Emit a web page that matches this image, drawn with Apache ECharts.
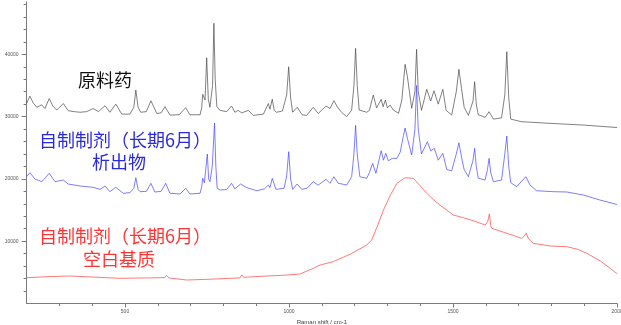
<!DOCTYPE html>
<html>
<head>
<meta charset="utf-8">
<script src="https://cdn.jsdelivr.net/npm/echarts@6/dist/echarts.min.js"></script>
<style>
html,body{margin:0;padding:0;background:#fff;}
#chart{width:621px;height:325px;}
</style>
</head>
<body>
<div id="chart"></div>
<script>
// ---- data (Raman shift [cm-1], counts) ----
const rawDrug = [[200,32100],[210,33300],[220,32200],[231,31500],[246,31900],[256,31300],[269,32900],[280,31700],[292,31060],[312,32100],[327,30950],[345,30800],[363,30700],[383,30800],[403,31300],[419,30800],[439,31750],[454,30700],[472,32000],[490,30400],[515,30400],[527,31500],[533,34270],[540,31500],[548,30700],[565,30800],[579,32550],[597,30500],[610,30600],[622,31600],[637,30250],[665,30300],[685,31430],[698,30300],[729,30300],[734,31500],[737,33580],[744,32660],[749,39450],[754,32800],[759,31500],[767,35000],[771,44980],[775,36000],[780,31600],[790,31000],[810,30800],[825,31700],[835,30700],[845,31000],[856,30600],[876,31000],[891,30200],[922,30400],[937,32100],[942,31200],[949,32800],[955,31000],[962,30700],[980,30900],[993,33500],[999,38000],[1005,33000],[1011,30700],[1025,31500],[1040,30300],[1054,30200],[1074,31500],[1089,30500],[1113,31700],[1125,31300],[1137,32550],[1147,31600],[1160,30700],[1176,30000],[1191,31060],[1198,35000],[1203,40960],[1208,35000],[1214,31060],[1237,30700],[1245,31000],[1257,33470],[1267,31400],[1281,32780],[1287,31600],[1294,32660],[1300,31400],[1308,31860],[1318,31060],[1334,30530],[1344,32660],[1354,38400],[1361,36400],[1374,31330],[1384,34000],[1389,40800],[1394,34000],[1404,31000],[1420,34380],[1432,32500],[1442,34160],[1455,32000],[1469,34380],[1479,31000],[1496,30250],[1510,34000],[1518,37600],[1526,34500],[1534,31500],[1547,30200],[1561,32500],[1566,35600],[1571,32000],[1577,30300],[1598,29890],[1610,30790],[1623,29600],[1648,29800],[1658,33500],[1664,40420],[1670,33000],[1676,29600],[1709,29180],[1796,28920],[1896,28650],[2000,28250]];

const precipitate = [[200,20350],[210,21000],[226,19940],[236,19800],[246,19550],[252,19900],[269,20900],[287,19550],[312,19820],[327,19180],[363,18860],[403,18650],[424,18330],[439,18860],[454,17950],[472,18650],[495,17690],[515,17800],[527,18500],[533,20190],[540,18300],[546,17950],[565,18000],[579,19290],[591,17900],[610,18000],[624,19290],[637,17700],[668,17580],[685,18490],[698,17580],[729,17700],[734,18800],[737,20100],[742,19400],[751,24000],[755,20000],[759,19550],[766,22000],[773,28970],[777,22000],[781,18490],[790,18220],[810,18300],[825,19290],[835,18400],[852,19180],[871,18600],[902,18100],[925,18400],[937,19020],[942,18600],[949,20100],[960,18330],[985,18500],[993,20500],[999,24370],[1005,20000],[1011,18330],[1025,19180],[1039,18330],[1055,18500],[1074,19550],[1089,19000],[1113,19940],[1125,19300],[1137,20350],[1150,19300],[1176,19020],[1191,20350],[1198,24000],[1203,28600],[1208,24000],[1216,20350],[1237,20100],[1245,21000],[1255,22500],[1265,20900],[1281,24530],[1288,23000],[1295,24100],[1303,22900],[1315,23300],[1329,23300],[1339,24300],[1349,27000],[1354,28170],[1361,26500],[1374,23840],[1384,28000],[1389,35000],[1394,28000],[1404,24000],[1422,25970],[1432,24500],[1443,24900],[1455,23000],[1469,24100],[1481,21500],[1496,21300],[1510,24000],[1518,25800],[1526,23500],[1534,21500],[1547,20350],[1561,23000],[1566,24900],[1571,22000],[1577,20100],[1598,19820],[1605,21500],[1610,23300],[1615,21000],[1623,19550],[1648,19820],[1658,24000],[1664,26890],[1670,22000],[1676,19400],[1694,18750],[1722,20350],[1735,19000],[1755,18100],[1806,17950],[1847,17900],[1897,17420],[1948,16610],[2000,15900]];

const blankMatrix = [[200,4140],[260,4300],[332,4410],[400,4250],[485,4040],[560,4100],[620,4150],[627,4500],[634,4100],[688,3770],[760,3900],[800,4000],[850,4100],[856,4600],[862,4200],[892,4300],[993,4570],[1034,4740],[1074,5650],[1095,6180],[1135,6710],[1190,8000],[1237,9390],[1252,10190],[1270,12500],[1288,15000],[1310,17500],[1329,19290],[1354,20190],[1379,20100],[1400,18900],[1420,17690],[1440,16700],[1460,15810],[1501,14200],[1530,13800],[1562,13290],[1598,12600],[1606,13200],[1611,14370],[1615,12500],[1618,12070],[1664,11270],[1709,10460],[1717,10800],[1723,11270],[1730,10400],[1745,9660],[1796,9230],[1847,9120],[1880,8700],[1908,8060],[1950,6800],[2000,4800]];

const xMajorTicks = [500, 1000, 1500, 2000];
const xMinorTicks = [300,400,600,700,800,900,1100,1200,1300,1400,1600,1700,1800,1900];
const yMajorTicks = [10000, 20000, 30000, 40000];
const yMinorTicks = [2000,4000,6000,8000,12000,14000,16000,18000,22000,24000,26000,28000,32000,34000,36000,38000,42000,44000,46000,48000];

const labelBlack = '原料药';
const labelBlue = ['自制制剂（长期6月）', '析出物'];
const labelRed = ['自制制剂（长期6月）', '空白基质'];

const chart = echarts.init(document.getElementById('chart'), null, {renderer: 'canvas'});
const axisGray = '#7a7a7a';
const tickFont = {fontSize: 5, color: '#555', fontFamily: 'Liberation Sans', formatter: v => String(v)};
const cjk = '"Noto Sans CJK SC", sans-serif';

function xAx(main) {
  return {
    type: 'value', min: 200, max: 2000, position: 'bottom',
    name: main ? 'Raman shift / cm-1' : '', nameLocation: 'middle', nameGap: 16,
    nameTextStyle: {fontSize: 6, color: '#444', fontFamily: 'Liberation Sans'},
    axisLine: {show: main, lineStyle: {color: axisGray, width: 1}},
    axisTick: {show: true, length: main ? 4 : 2.5, customValues: main ? xMajorTicks : xMinorTicks, lineStyle: {color: axisGray}},
    axisLabel: main ? Object.assign({show: true, margin: 6, customValues: xMajorTicks}, tickFont) : {show: false},
    splitLine: {show: false}
  };
}
function yAx(main) {
  return {
    type: 'value', min: 0, max: 48400, position: 'left',
    name: main ? 'Counts' : '', nameLocation: 'middle', nameGap: 20, nameRotate: 90,
    nameTextStyle: {fontSize: 5, color: '#5a6f9a', fontFamily: 'Liberation Sans'},
    axisLine: {show: main, lineStyle: {color: axisGray, width: 1}},
    axisTick: {show: true, length: main ? 5 : 3, customValues: main ? yMajorTicks : yMinorTicks, lineStyle: {color: axisGray}},
    axisLabel: main ? Object.assign({show: true, margin: 8, customValues: yMajorTicks}, tickFont) : {show: false},
    splitLine: {show: false}
  };
}

function line(data, color) {
  return {
    type: 'line', data: data, xAxisIndex: 0, yAxisIndex: 0,
    showSymbol: false, symbol: 'none', smooth: false, animation: false,
    lineStyle: {color: color, width: 0.7}
  };
}

const option = {
  backgroundColor: '#fff',
  animation: false,
  grid: {left: 26.6, right: 4, top: 2, bottom: 21.5, containLabel: false, outerBoundsMode: 'none'},
  xAxis: [xAx(true), xAx(false)],
  yAxis: [yAx(true), yAx(false)],
  series: [
    line(blankMatrix, '#ff4040'),
    line(precipitate, '#4646ff'),
    line(rawDrug, '#4a4a4a')
  ],
  graphic: [
    {type: 'text', left: 78, top: 71, style: {text: labelBlack, font: '18px ' + cjk, fill: '#111'}},
    {type: 'text', left: 39, top: 131, style: {text: labelBlue[0], font: '18px ' + cjk, fill: '#2a2ae0'}},
    {type: 'text', left: 92, top: 153, style: {text: labelBlue[1], font: '18px ' + cjk, fill: '#2a2ae0'}},
    {type: 'text', left: 39, top: 227, style: {text: labelRed[0], font: '18px ' + cjk, fill: '#ff3535'}},
    {type: 'text', left: 83, top: 250, style: {text: labelRed[1], font: '18px ' + cjk, fill: '#ff3535'}}
  ]
};
chart.setOption(option);
</script>
</body>
</html>
